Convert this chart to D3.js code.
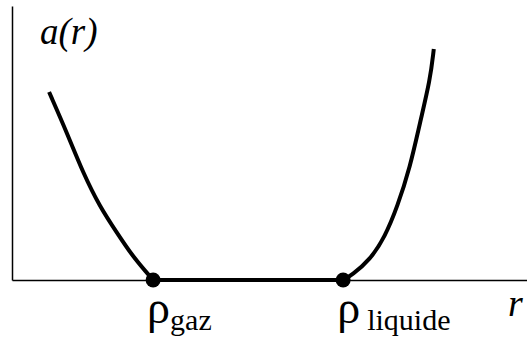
<!DOCTYPE html>
<html>
<head>
<meta charset="utf-8">
<script src="https://cdn.jsdelivr.net/npm/d3@7"></script>
<style>
	html,body{margin:0;padding:0;background:#fff;}
	svg{display:block;}
</style>
</head>
<body>
<svg id="chart" width="527" height="343"></svg>
<script>
// courbe gauche (phase gaz) : r et a(r)
var leftR = [7.2, 10.7, 13.8, 17.1, 20.4, 23.5, 27.4];
var leftA = [68.6, 53.6, 39.1, 26.6, 17.2, 8.4, 0];
// courbe droite (phase liquide)
var rightR = [64.3, 66.0, 69.5, 72.4, 74.8, 77.3, 79.2, 81.2, 81.9];
var rightA = [0, 1.8, 7.3, 15.7, 26.6, 41.2, 57.3, 73.0, 84.3];
// points de coexistence
var pointNames = ["gaz", "liquide"];
var pointR = [27.4, 64.3];
var pointA = [0, 0];

var svg = d3.select("#chart");

var x = d3.scaleLinear().domain([0, 100]).range([12, 527]);
var y = d3.scaleLinear().domain([0, 100]).range([280, 6]);

//axes sans graduations
svg.append("g")
	.attr("transform", "translate(0," + y(0) + ")")
	.call(d3.axisBottom(x).tickValues([]).tickSizeOuter(0))
	.select(".domain").attr("stroke", "#000").attr("stroke-width", 1.5);
svg.append("g")
	.attr("transform", "translate(" + x(0) + ",0)")
	.call(d3.axisLeft(y).tickValues([]).tickSizeOuter(0))
	.select(".domain").attr("stroke", "#000").attr("stroke-width", 1.5);

var line = d3.line()
	.x(function(d){ return x(d[0]); })
	.y(function(d){ return y(d[1]); })
	.curve(d3.curveBasis);

function draw(rs, as){
	svg.append("path")
		.datum(d3.zip(rs, as))
		.attr("fill", "none")
		.attr("stroke", "#000")
		.attr("stroke-width", 4)
		.attr("d", line);
}
draw(leftR, leftA);
draw(rightR, rightA);
//palier horizontal entre les deux points
draw(pointR, pointA);

svg.selectAll("circle.pt")
	.data(pointR)
	.enter().append("circle")
	.attr("class", "pt")
	.attr("cx", function(d){ return x(d); })
	.attr("cy", function(d, i){ return y(pointA[i]); })
	.attr("r", 7.5)
	.attr("fill", "#000");

//étiquettes rho + indice
pointR.forEach(function(d, i){
	svg.append("text")
		.attr("x", x(d) - 6)
		.attr("y", 323)
		.style("font-family", "'Liberation Serif', serif")
		.style("font-size", "46px")
		.text("ρ");
	svg.append("text")
		.attr("x", x(d) + (i == 0 ? 17 : 24))
		.attr("y", 330)
		.style("font-family", "'Liberation Serif', serif")
		.style("font-size", "30px")
		.text(pointNames[i]);
});

svg.append("text")
	.attr("x", 40)
	.attr("y", 44)
	.style("font-family", "'Liberation Serif', serif")
	.style("font-style", "italic")
	.style("font-size", "37px")
	.text("a(r)");

svg.append("text")
	.attr("x", 508)
	.attr("y", 316)
	.style("font-family", "'Liberation Serif', serif")
	.style("font-style", "italic")
	.style("font-size", "38px")
	.text("r");
</script>
</body>
</html>
